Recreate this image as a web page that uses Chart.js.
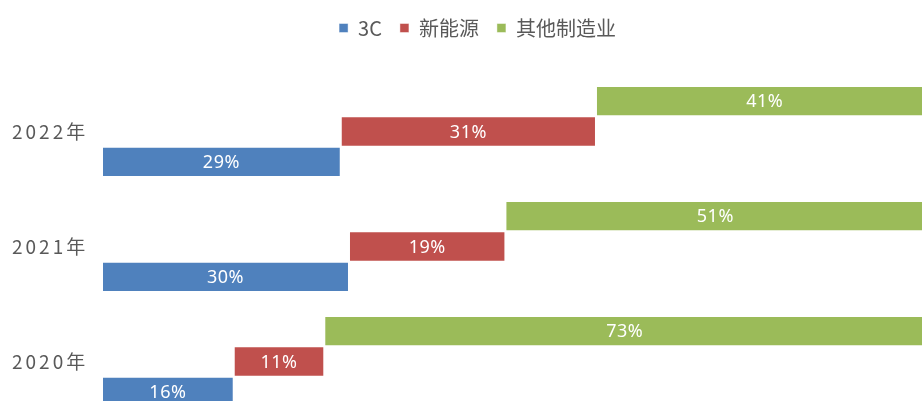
<!DOCTYPE html>
<html>
<head>
<meta charset="utf-8">
<script src="https://cdn.jsdelivr.net/npm/chart.js@4"></script>
<style>
  html, body { margin: 0; padding: 0; overflow: hidden; background: #fff; }
  #wrap { position: absolute; left: 0; top: 0; width: 922px; height: 419px; }
</style>
</head>
<body>
<div id="wrap"><canvas id="chart"></canvas></div>
<script>
'use strict';

// data (shares in %)
const years = ['2022年', '2021年', '2020年'];
const share3C = [29, 30, 16];
const shareNewEnergy = [31, 19, 11];
const shareOther = [41, 51, 73];

const textGray = '#595959';

// each segment starts where the previous one ends
function ranges(starts, values) {
  return values.map((v, i) => [starts[i], starts[i] + v]);
}
const zeros = years.map(() => 0);
const range3C = ranges(zeros, share3C);
const rangeNew = ranges(range3C.map(r => r[1]), shareNewEnergy);
const rangeOther = ranges(rangeNew.map(r => r[1]), shareOther);

// white % labels in the middle of each bar
const barLabels = {
  id: 'barLabels',
  afterDatasetsDraw(chart) {
    const ctx = chart.ctx;
    ctx.save();
    ctx.font = '18px "Noto Sans"';
    ctx.letterSpacing = '0.5px';
    ctx.fillStyle = '#ffffff';
    ctx.textAlign = 'center';
    ctx.textBaseline = 'middle';
    chart.data.datasets.forEach((ds, di) => {
      const meta = chart.getDatasetMeta(di);
      meta.data.forEach((bar, i) => {
        const share = ds.shares[i];
        ctx.fillText(share + '%', (bar.x + bar.base) / 2, bar.y + 1);
      });
    });
    ctx.restore();
  }
};

// year labels on the left, spaced out like the original
const yearLabels = {
  id: 'yearLabels',
  afterDraw(chart) {
    const ctx = chart.ctx;
    const yScale = chart.scales.y;
    ctx.save();
    ctx.font = '19px "Noto Sans CJK SC"';
    ctx.letterSpacing = '3px';
    ctx.fillStyle = textGray;
    ctx.textAlign = 'left';
    ctx.textBaseline = 'middle';
    years.forEach((y, i) => {
      ctx.fillText(y, 12, yScale.getPixelForValue(i));
    });
    ctx.restore();
  }
};

const edge = 'rgba(255,255,255,0.45)';

new Chart(document.getElementById('chart'), {
  type: 'bar',
  data: {
    labels: years,
    datasets: [
      { label: '其他制造业', data: rangeOther, shares: shareOther, backgroundColor: '#9BBB59',
        borderColor: edge, borderWidth: 1, borderSkipped: false },
      { label: '新能源', data: rangeNew, shares: shareNewEnergy, backgroundColor: '#C0504D',
        borderColor: edge, borderWidth: 1, borderSkipped: false },
      { label: '3C', data: range3C, shares: share3C, backgroundColor: '#4F81BD',
        borderColor: edge, borderWidth: 1, borderSkipped: false }
    ]
  },
  options: {
    indexAxis: 'y',
    responsive: true,
    maintainAspectRatio: false,
    animation: false,
    categoryPercentage: 0.79,
    barPercentage: 1,
    layout: { padding: { left: 33, right: 0, top: 0, bottom: 0 } },
    scales: {
      x: {
        position: 'top',
        min: 0,
        max: 99.6,
        grid: { display: false },
        border: { display: false },
        ticks: { display: false },
        afterFit(scale) { scale.height = 26; }
      },
      y: {
        grid: { display: false },
        border: { display: false },
        ticks: { display: false },
        afterFit(scale) { scale.width = 69; }
      }
    },
    plugins: {
      legend: {
        position: 'top',
        reverse: true,
        labels: {
          boxWidth: 9,
          boxHeight: 9,
          padding: 18,
          color: textGray,
          font: { family: '"Noto Sans CJK SC"', size: 20 }
        }
      },
      tooltip: { enabled: false }
    }
  },
  plugins: [barLabels, yearLabels]
});
</script>
</body>
</html>
